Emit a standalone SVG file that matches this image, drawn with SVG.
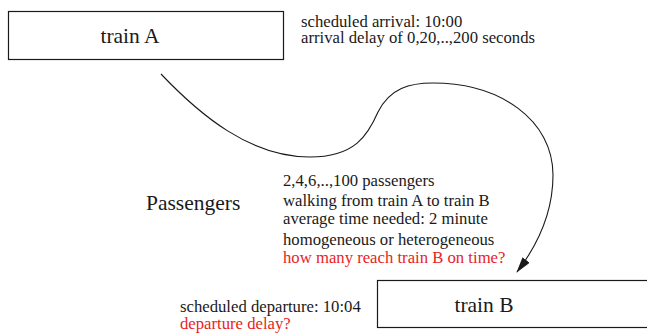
<svg xmlns="http://www.w3.org/2000/svg" width="647" height="333" viewBox="0 0 647 333">
  <style>
    .box { fill: #fff; stroke: #1a1a1a; stroke-width: 1.2; }
    .big { font-family: "Liberation Serif", "Times New Roman", serif; font-size: 21.5px; fill: #1a1a1a; }
    .small { font-family: "Liberation Serif", "Times New Roman", serif; font-size: 16.7px; fill: #1a1a1a; }
    .red { fill: #e8231f; }
    .conn { fill: none; stroke: #1a1a1a; stroke-width: 1.1; }
  </style>
  <defs>
    <marker id="arrow" viewBox="0 0 16 9" refX="15" refY="4.5" markerWidth="16" markerHeight="9" markerUnits="userSpaceOnUse" orient="auto">
      <path d="M0,0 L16,4.5 L0,9 z" fill="#1a1a1a"/>
    </marker>
  </defs>
  <rect width="647" height="333" fill="#fff"/>

  <g id="trainA">
    <rect class="box" x="8.5" y="11.5" width="275" height="48"/>
    <text class="big" x="130" y="43" text-anchor="middle">train A</text>
  </g>

  <g id="arrival-info">
    <text class="small" x="301" y="27">scheduled arrival: 10:00</text>
    <text class="small" x="301" y="43">arrival delay of 0,20,..,200 seconds</text>
  </g>

  <g id="passengers">
    <text class="big" x="146" y="210">Passengers</text>
  </g>

  <g id="passenger-info">
    <text class="small" x="283" y="186">2,4,6,..,100 passengers</text>
    <text class="small" x="283" y="206">walking from train A to train B</text>
    <text class="small" x="283" y="224">average time needed: 2 minute</text>
    <text class="small" x="283" y="245">homogeneous or heterogeneous</text>
    <text class="small red" x="283" y="263">how many reach train B on time?</text>
  </g>

  <g id="trainB">
    <rect class="box" x="377.5" y="280.5" width="280" height="47"/>
    <text class="big" x="484" y="312" text-anchor="middle">train B</text>
  </g>

  <g id="departure-info">
    <text class="small" x="180" y="312">scheduled departure: 10:04</text>
    <text class="small red" x="180" y="329">departure delay?</text>
  </g>

  <g id="connectors">
    <path class="conn" marker-end="url(#arrow)" d="M161,74 C200,115 250,157 310,157 C355,157 368,135 378,112 C390,88 410,83 433,83 C500,83 553,120 553,175 C553,220 530,255 517,272"/>
  </g>
</svg>
